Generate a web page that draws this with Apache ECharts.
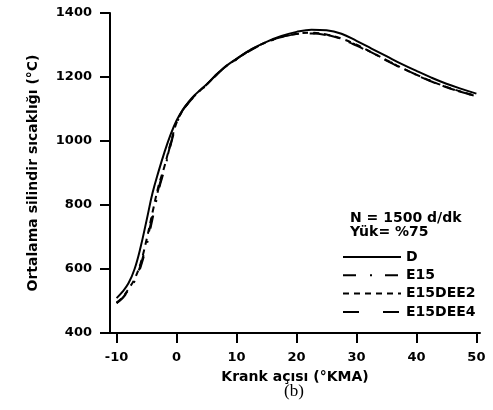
<!DOCTYPE html>
<html>
<head>
<meta charset="utf-8">
<script src="https://cdn.jsdelivr.net/npm/echarts@6/dist/echarts.min.js"></script>
<style>html,body{margin:0;padding:0;background:#fff;}#c{width:493px;height:410px;}</style>
</head>
<body>
<div id="c"></div>
<script>
const crankAngle = [-10,-9,-8,-7,-6,-5,-4,-3,-2,-1,0,1,2,3,4,5,7.5,10,12.5,15,17.5,20,22.5,25,27.5,30,32.5,35,37.5,40,42.5,45,47.5,50];
const D        = [509,529,556,600,668,752,838,905,966,1020,1064,1097,1122,1143,1160,1177,1223,1257,1287,1310,1328,1341,1348,1346,1335,1313,1289,1265,1241,1219,1198,1179,1163,1148];
const E15      = [493,509,533,562,606,674,758,845,912,986,1053,1094,1119,1140,1158,1175,1221,1255,1285,1308,1324,1334,1337,1332,1319,1300,1277,1253,1229,1207,1187,1168,1153,1140];
const E15DEE2  = [495,512,538,569,618,692,778,860,922,993,1057,1095,1120,1141,1159,1176,1222,1256,1286,1309,1325,1335,1338,1333,1320,1301,1277,1253,1229,1207,1187,1169,1154,1141];
const E15DEE4  = [494,510,535,565,612,684,768,852,917,990,1055,1095,1120,1141,1159,1176,1222,1256,1286,1309,1325,1334,1336,1331,1318,1298,1275,1251,1228,1206,1186,1168,1153,1140];
const xTicks = [-10,0,10,20,30,40,50];
const seriesNames = ['D','E15','E15DEE2','E15DEE4'];
const infoLines = ['N = 1500 d/dk','Yük= %75'];

const FONT = 'DejaVu Sans';
function pairs(ys){ return crankAngle.map((x,i)=>[x, ys[i]]); }
const dashes = ['solid',[13,14,2,13],[6,5],[16,24]];
const datas = [D,E15,E15DEE2,E15DEE4];

const chart = echarts.init(document.getElementById('c'), null, {renderer:'canvas'});
chart.setOption({
  animation:false,
  backgroundColor:'#fff',
  grid:{left:110, right:13, top:13, bottom:77, containLabel:false},
  xAxis:{
    type:'value', min:-11.1, max:50.6,
    name:'Krank açısı (°KMA)', nameLocation:'middle', nameGap:37,
    nameTextStyle:{fontFamily:FONT, fontWeight:'bold', fontSize:14, color:'#000'},
    axisLine:{show:true, onZero:false, lineStyle:{color:'#000', width:2}},
    axisTick:{show:true, inside:false, length:10, lineStyle:{color:'#000', width:2}, customValues:xTicks},
    axisLabel:{color:'#000', fontFamily:FONT, fontWeight:'bold', fontSize:13, margin:18, customValues:xTicks, formatter:v=>String(v)},
    splitLine:{show:false}
  },
  yAxis:{
    type:'value', min:400, max:1400, interval:200,
    name:'Ortalama silindir sıcaklığı (°C)', nameLocation:'middle', nameGap:70,
    nameTextStyle:{fontFamily:FONT, fontWeight:'bold', fontSize:14, color:'#000'},
    axisLine:{show:true, onZero:false, lineStyle:{color:'#000', width:2}},
    axisTick:{show:true, inside:false, length:10, lineStyle:{color:'#000', width:2}},
    axisLabel:{color:'#000', fontFamily:FONT, fontWeight:'bold', fontSize:13, margin:18, formatter:v=>String(v)},
    splitLine:{show:false}
  },
  legend:{
    orient:'vertical', left:337, top:245, itemWidth:58, itemHeight:14, itemGap:4.3,
    itemStyle:{opacity:0},
    textStyle:{fontFamily:FONT, fontWeight:'bold', fontSize:14, color:'#000'},
    data:seriesNames
  },
  graphic:[
    {type:'text', left:350, top:211, style:{text:infoLines[0], font:'bold 14px "DejaVu Sans"', fill:'#000'}},
    {type:'text', left:350, top:225, style:{text:infoLines[1], font:'bold 14px "DejaVu Sans"', fill:'#000'}},
    {type:'text', left:284, top:383, style:{text:'(b)', font:'17px "Liberation Serif"', fill:'#000'}}
  ],
  series: seriesNames.map((n,i)=>({
    name:n, type:'line', data:pairs(datas[i]), smooth:0.4, symbol:'none', showSymbol:false,
    lineStyle:{color:'#000', width:2, type:dashes[i]},
    itemStyle:{color:'#000'}, z: 10-i
  }))
});
</script>
</body>
</html>
